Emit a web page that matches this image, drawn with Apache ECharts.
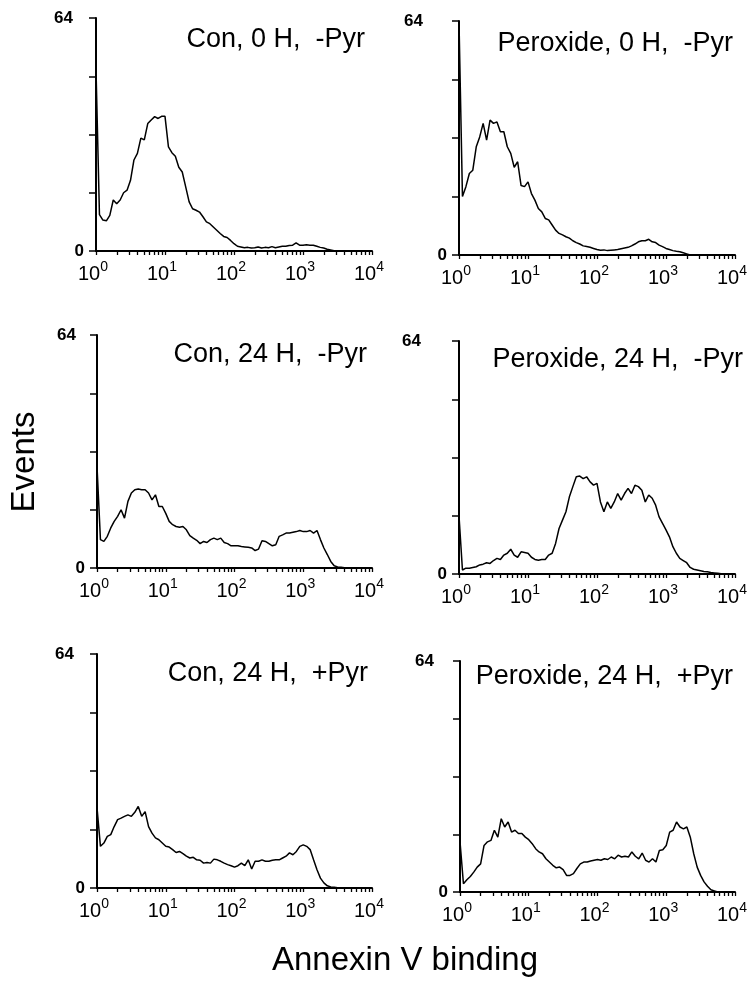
<!DOCTYPE html>
<html><head><meta charset="utf-8">
<script src="https://cdn.jsdelivr.net/npm/echarts@6/dist/echarts.min.js"></script>
<style>html,body{margin:0;padding:0;background:#fff}#c{width:756px;height:983px}</style>
</head><body><div id="c"></div>
<script>
// channel spacing of the histograms, in decades of Annexin V fluorescence
const binStep = 0.05;
const xMajorTicks = [1, 10, 100, 1000, 10000];
const xMinorTicks = [2,3,4,5,6,7,8,9,20,30,40,50,60,70,80,90,200,300,400,500,600,700,800,900,2000,3000,4000,5000,6000,7000,8000,9000];
const yMax = 64;
const yTickStep = 16;

const panelTitles = [
  'Con, 0 H,  -Pyr', 'Peroxide, 0 H,  -Pyr',
  'Con, 24 H,  -Pyr', 'Peroxide, 24 H,  -Pyr',
  'Con, 24 H,  +Pyr', 'Peroxide, 24 H,  +Pyr'
];

// Events per channel (channels every 0.05 decade from 10^0 to 10^4)
const con0hNoPyr = [50,10,8.5,8.3,9.8,14,13,14,16,16.7,19.4,25,26.8,31,30.5,35,36,36.9,36.4,37,37,
  28.6,27,26,23,21.7,17.6,13.5,11.6,11.2,10.7,9.4,8,7.5,6.6,5.7,4.8,4,3.7,2.9,2,
  1.3,1.1,0.9,1.0,0.8,0.9,1.1,0.8,1.0,0.9,1.2,0.9,1.1,1.3,1.3,1.5,1.6,2.2,1.6,1.6,
  1.7,1.6,1.6,1.3,1.0,0.8,0.5,0.3,0.1,0,0,0,0,0,0,0,0,0,0,0];
const perox0hNoPyr = [64,16,18.7,22.3,23.2,29.6,32.3,36,31.4,36.9,36,36.4,33.7,33.7,29.6,27.8,24,25.5,19,18.7,20,
  16.8,15,12.7,11.8,10,9.6,8.2,6.8,5.9,5.5,5,4.6,3.9,3.4,3,2.5,2.3,2.1,1.8,1.5,
  1.3,1.4,1.2,1.3,1.4,1.5,1.7,1.9,2.1,2.5,3,3.6,3.9,3.9,4.3,3.6,3.4,2.7,2.3,1.8,
  1.5,1.2,1.0,0.9,0.6,0.3,0,0,0,0,0,0,0,0,0,0,0,0,0,0];
const con24hNoPyr = [28,7.8,7.3,8.7,11,12.8,14.2,16,13.7,18.3,20.6,21.5,21.7,21.5,21.5,20.6,18.7,20.1,16.9,16.9,15,
  12.8,11.9,11.4,11.2,11.4,10.5,8.9,8.2,7.6,6.7,7.3,7,7.8,8.2,7.8,8.2,7,6.7,6.1,6.1,
  6.1,5.9,5.8,5.7,5.5,4.8,5.2,7.5,7.3,6.7,6.1,6.4,8.7,9.1,9.6,9.6,9.8,10,10.3,10,
  10,10.3,9.6,10.3,7.8,5.5,3.7,1.8,0.6,0.3,0.2,0.1,0,0,0,0,0,0,0,0];
const perox24hNoPyr = [16,1.1,1.6,1.6,1.8,2,2.5,2.7,3.1,2.9,3.7,4.3,4,5.2,5.7,6.8,5.2,4.6,6.1,5.9,5.7,
  4.6,4,3.8,4,4,5.2,5.7,8.4,12.5,14.8,17.1,21.2,24,26.7,26.9,26.2,26.7,25.3,24.4,24.9,
  19.8,17.1,19.8,18,19.8,22.1,20.3,22.1,23.5,22.1,24.4,24,23,19.8,21.7,20.8,18.9,15.7,13.9,12.1,
  10.2,7.5,5.7,4.3,3.7,3.1,1.8,1.3,1.1,0.9,0.7,0.6,0.4,0.3,0.2,0.1,0,0,0,0];
const con24hPyr = [22,11.4,12.3,14.1,14.6,16.8,18.7,19.1,19.6,20,19.6,20.7,22.3,19.6,20.9,16.8,15,13.7,13.2,12.3,11.4,
  11.2,10.5,9.7,10,9.4,8.7,8.2,8.4,7.7,7.6,6.8,7,6.8,7.9,7.7,7.3,6.8,6.4,6.1,5.7,
  6.1,6.8,6.1,7.7,5.2,7.3,7.3,7.7,7.3,7.3,7.6,7.7,7.7,8.2,8.7,9.6,9.1,10,11.4,11.8,
  11.4,10.5,7.7,5,2.7,1.4,0.6,0.3,0.2,0.1,0,0,0,0,0,0,0,0,0,0];
const perox24hPyr = [14,2.3,3.4,4.3,5.5,6.9,7.8,12.9,13.9,14.3,17.1,15.2,20.3,18,19.4,16.6,17.1,16.2,16.2,15.2,14.5,
  13.4,12,11.1,10.6,9.2,8.3,7.4,6.7,6.9,6.2,4.6,4.6,5.1,6.5,7.8,8.3,8.3,8.6,8.8,9,
  8.8,9.2,9,9.7,9.2,10.2,9.7,9.9,9.7,11.1,9.9,9.2,10.8,8.8,8.3,9.2,8.3,11.5,11.7,12.9,
  16.6,17.1,19.4,18,17.5,18,15.2,10.6,6.9,4.6,2.8,1.6,0.6,0.3,0,0,0,0,0,0];

const panelSeries = [con0hNoPyr, perox0hNoPyr, con24hNoPyr, perox24hNoPyr, con24hPyr, perox24hPyr];

// layout (pixels)
const grids = [
  {left: 96, top: 18, width: 276, height: 233},
  {left: 459, top: 21, width: 279, height: 234},
  {left: 97, top: 335, width: 275, height: 233},
  {left: 459, top: 341, width: 279, height: 233},
  {left: 97, top: 654, width: 275, height: 234},
  {left: 460, top: 661, width: 278, height: 231}
];
const titleRight = [365, 733, 367, 743, 368, 733];
const titleTop = [26, 30, 341, 346, 660, 663];
const topLabelPad = [11, 24, 9, 26, 11, 14];

const FONT = '"Liberation Sans", Arial, Helvetica, sans-serif';
const allXTicks = xMajorTicks.concat(xMinorTicks).sort((a, b) => a - b);

const option = {
  animation: false,
  backgroundColor: '#fff',
  title: panelTitles.map((t, i) => ({
    text: t, right: 756 - titleRight[i], top: titleTop[i], padding: 0,
    textStyle: {fontSize: 27, fontWeight: 'normal', color: '#000', fontFamily: FONT}
  })),
  grid: grids.map(g => Object.assign({containLabel: false}, g)),
  xAxis: [],
  yAxis: [],
  series: [],
  graphic: [
    {type: 'text', x: 25, y: 462, rotation: Math.PI / 2,
      style: {text: 'Events', font: '33px ' + FONT, fill: '#000', align: 'center', verticalAlign: 'middle'}},
    {type: 'text', x: 405, y: 961,
      style: {text: 'Annexin V binding', font: '33px ' + FONT, fill: '#000', align: 'center', verticalAlign: 'middle'}}
  ]
};

panelSeries.forEach((vals, k) => {
  option.xAxis.push({
    type: 'log', logBase: 10, gridIndex: k, min: 1, max: 10000, position: 'bottom',
    axisLine: {lineStyle: {color: '#000', width: 2}},
    axisTick: {show: true, length: 4, customValues: allXTicks, lineStyle: {color: '#000', width: 1.3}},
    splitLine: {show: false},
    axisLabel: {
      customValues: xMajorTicks, margin: 9, color: '#000', fontFamily: FONT,
      formatter: v => '{b|10}{s|' + Math.round(Math.log10(v)) + '}',
      rich: {
        b: {fontSize: 20, fontFamily: FONT, color: '#000', lineHeight: 24, verticalAlign: 'bottom'},
        s: {fontSize: 14, fontFamily: FONT, color: '#000', verticalAlign: 'top', lineHeight: 14, padding: [0, 6, 0, 0]}
      }
    }
  });
  option.yAxis.push({
    type: 'value', gridIndex: k, min: 0, max: yMax, interval: yTickStep,
    axisLine: {show: true, lineStyle: {color: '#000', width: 2}},
    axisTick: {show: true, length: 7, lineStyle: {color: '#000', width: 1.5}},
    splitLine: {show: false},
    axisLabel: {
      margin: 12,
      formatter: v => v === yMax ? '{t|' + v + '}' : (v === 0 ? '{z|0}' : ''),
      rich: {
        t: {fontSize: 17, fontWeight: 'bold', fontFamily: FONT, color: '#000', padding: [0, topLabelPad[k], 0, 0]},
        z: {fontSize: 17, fontWeight: 'bold', fontFamily: FONT, color: '#000'}
      }
    }
  });
  option.series.push({
    type: 'line', xAxisIndex: k, yAxisIndex: k,
    showSymbol: false, symbol: 'none', clip: true,
    lineStyle: {color: '#000', width: 1.5},
    data: vals.map((v, i) => [Math.pow(10, i * binStep), v])
  });
});

const chart = echarts.init(document.getElementById('c'), null, {renderer: 'canvas'});
chart.setOption(option);
</script>
</body></html>
